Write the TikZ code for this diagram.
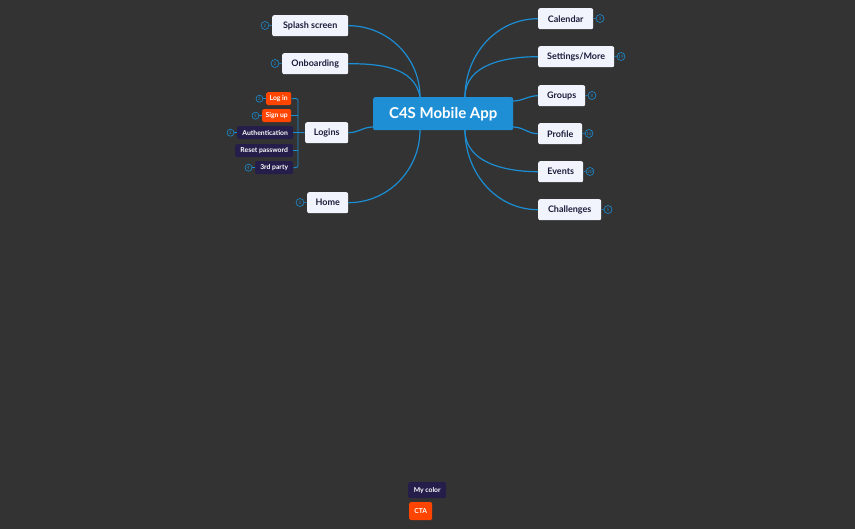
\documentclass[tikz,border=0pt]{standalone}
\usepackage{fontspec}
\setmainfont{Lato}
\definecolor{bgc}{HTML}{333333}
\definecolor{lnc}{HTML}{1C8ED4}
\definecolor{ctr}{HTML}{1E8FD5}
\definecolor{dkc}{HTML}{251E4A}
\definecolor{ctac}{HTML}{FF4500}
\definecolor{nodec}{HTML}{F2F4FD}
\definecolor{ntext}{HTML}{1C1B3A}
\begin{document}
\begin{tikzpicture}[x=1pt,y=-1pt,
  br/.style={fill=nodec,rounded corners=2pt,text=ntext,font=\fontsize{9}{10}\selectfont\bfseries,inner sep=0pt,anchor=north west},
  sb/.style={rounded corners=1.5pt,text=white,font=\fontsize{6.8}{8}\selectfont\bfseries,inner sep=0pt,anchor=north west},
  dk/.style={sb,fill=dkc},
  cta/.style={sb,fill=ctac},
  ln/.style={draw=lnc,line width=1.2pt},
  num/.style={circle,draw=lnc,line width=0.6pt,inner sep=0pt,minimum size=8pt,text=lnc,font=\fontsize{4.5}{4.5}\selectfont}]
\fill[bgc] (0,0) rectangle (855,529);
\node[fill=ctr,rounded corners=2pt,text=white,font=\fontsize{15}{17}\selectfont\bfseries,minimum width=140pt,minimum height=33pt,anchor=north west] (c) at (373,97) {C4S Mobile App};
\coordinate (cl) at (420,97); \coordinate (cr) at (465,97);
\coordinate (bl) at (420,130); \coordinate (brr) at (465,130);
\coordinate (gr) at (513,101); \coordinate (pr) at (513,127);
% right
\foreach \n/\t/\x/\y/\w/\k in {cal/Calendar/538/8/55/3, set/Settings\slash More/538/46/76/19, grp/Groups/538/85/47/8, pro/Profile/538/123/44/12, evt/Events/538/161/45/20, chl/Challenges/538/199/63/5}{
  \node[br,minimum width=\w pt,minimum height=21pt] (\n) at (\x,\y) {\t};
  \node[num] (\n n) at (\x+\w+7,\y+10.5) {\k};
  \draw[lnc,line width=0.6pt] (\n.east) -- (\n n.west);
}
\draw[ln] (cr) to[out=90,in=180] (cal.west);
\draw[ln] (cr) to[out=90,in=180] (set.west);
\draw[ln] (gr) to[out=0,in=180] (grp.west);
\draw[ln] (pr) to[out=0,in=180] (pro.west);
\draw[ln] (brr) to[out=-90,in=180] (evt.west);
\draw[ln] (brr) to[out=-90,in=180] (chl.west);
% left
\foreach \n/\t/\x/\y/\w/\k in {spl/Splash screen/272/15/76/2, onb/Onboarding/282/53/66/2, hom/Home/307/192/41/2}{
  \node[br,minimum width=\w pt,minimum height=21pt] (\n) at (\x,\y) {\t};
  \node[num] (\n n) at (\x-7,\y+10.5) {\k};
  \draw[lnc,line width=0.6pt] (\n.west) -- (\n n.east);
}
\node[br,minimum width=43pt,minimum height=21pt] (log) at (305,122) {Logins};
\draw[ln] (cl) to[out=90,in=0] (spl.east);
\draw[ln] (cl) to[out=100,in=0] (onb.east);
\draw[ln] (c.west|-0,127) to[out=180,in=0] (log.east);
\draw[ln] (bl) to[out=-90,in=0] (hom.east);
% sub
\node[cta,minimum width=25pt,minimum height=13pt] (s1) at (266,92) {Log in};
\node[cta,minimum width=29pt,minimum height=13pt] (s2) at (262,109) {Sign up};
\node[dk,minimum width=56pt,minimum height=13pt] (s3) at (237,126) {Authentication};
\node[dk,minimum width=58pt,minimum height=13pt] (s4) at (235,144) {Reset password};
\node[dk,minimum width=38pt,minimum height=13pt] (s5) at (255,161) {3rd party};
\draw[lnc,line width=0.8pt,rounded corners=2pt] (s1.east) -- (298,98.5) -- (298,167.5) -- (s5.east);
\draw[lnc,line width=0.8pt] (log.west) -- (298,132.5);
\foreach \s in {s2,s3,s4}{\draw[lnc,line width=0.8pt] (\s.east) -- (298,0|-\s.east);}
\foreach \s/\k in {s1/3,s2/5,s3/2,s5/4}{
  \node[num,minimum size=7pt] (\s n) at ([xshift=-6.5pt]\s.west) {\k};
  \draw[lnc,line width=0.5pt] (\s.west) -- (\s n.east);
}
% legend
\node[dk,minimum width=38pt,minimum height=16pt] (lg1) at (408,482) {My color};
\node[cta,minimum width=23pt,minimum height=18pt] (lg2) at (409,502) {CTA};
\end{tikzpicture}
\end{document}
